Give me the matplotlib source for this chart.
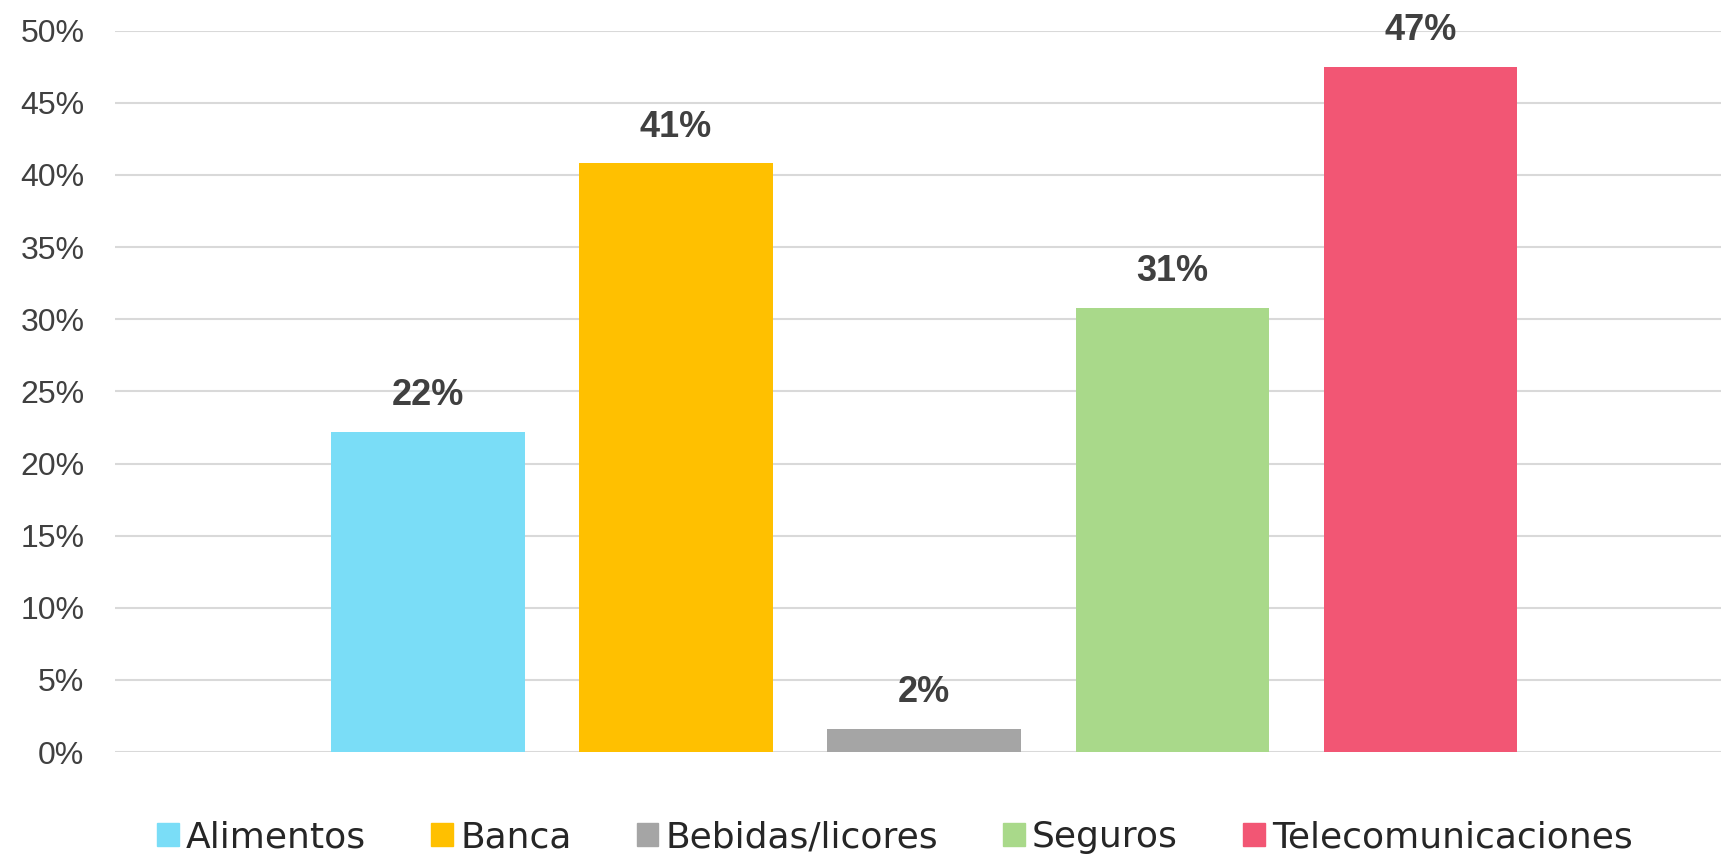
import matplotlib.pyplot as plt
from matplotlib.patches import Patch
from matplotlib.ticker import PercentFormatter

categories = ["Alimentos", "Banca", "Bebidas/licores", "Seguros", "Telecomunicaciones"]
values = [22.2, 40.8, 1.6, 30.8, 47.5]
labels = ["22%", "41%", "2%", "31%", "47%"]
colors = ["#7ADDF7", "#FFC000", "#A5A5A5", "#A9D98A", "#F25674"]
yticks = [0, 5, 10, 15, 20, 25, 30, 35, 40, 45, 50]

plt.rcParams['font.family'] = ['Liberation Sans', 'DejaVu Sans']

fig = plt.figure(figsize=(17.21, 8.58), dpi=100)
ax = fig.add_axes([0.0668, 0.1235, 0.9332, 0.8407])

x = list(range(len(categories)))
ax.bar(x, values, width=0.78, color=colors, zorder=2)

for xi, v, lab in zip(x, values, labels):
    ax.text(xi, v + 1.3, lab, ha="center", va="bottom", fontsize=26,
            fontweight="bold", color="#404040")

ax.set_ylim(0, 50)
ax.set_xlim(-1.26, 5.21)
ax.set_yticks(yticks)
ax.yaxis.set_major_formatter(PercentFormatter(decimals=0))
ax.set_xticks([])
ax.grid(axis="y", color="#D9D9D9", linewidth=1.5, zorder=0)
for s in ax.spines.values():
    s.set_visible(False)
ax.tick_params(axis="y", length=0, pad=22, labelsize=23, labelcolor="#404040")

handles = [Patch(color=c) for c in colors]
fig.legend(handles, categories, loc="center", bbox_to_anchor=(0.52, 0.024),
           ncol=5, frameon=False, prop={'family': 'DejaVu Sans', 'size': 26},
           handlelength=0.6, handleheight=0.6, handletextpad=0.2,
           columnspacing=1.8, labelcolor="#262626")

fig.savefig("out.png", dpi=100, facecolor="white")
